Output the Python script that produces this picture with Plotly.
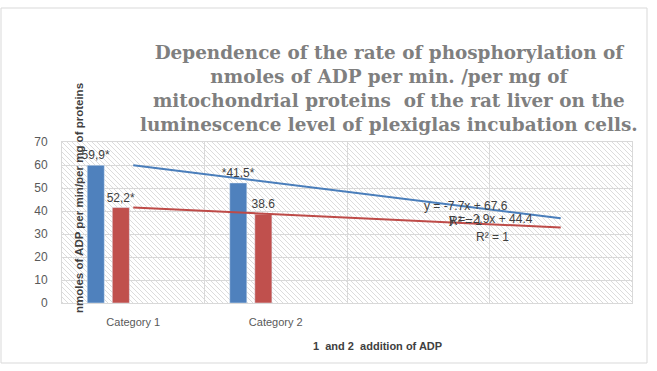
import base64
import numpy as np
import plotly.graph_objects as go

# ---- data ----
categories = ["Category 1", "Category 2", "", ""]
cat_index = [1, 2, 3, 4]
series1_values = [59.9, 52.2]
series2_values = [41.5, 38.6]
series1_labels = ["59,9*", "*41,5*"]
series2_labels = ["52,2*", "38.6"]
y_ticks = [0, 10, 20, 30, 40, 50, 60, 70]

title_text = ("Dependence of the rate of phosphorylation of<br>"
              "nmoles of ADP per min. /per mg of<br>"
              "mitochondrial proteins  of the rat liver on the<br>"
              "luminescence level of plexiglas incubation cells.")
y_title = "nmoles of ADP per min/per mg of proteins"
x_title = "1  and 2  addition of ADP"

BLUE = "#4f81bd"
RED = "#c0504d"
GRID = "#d9d9d9"
TXT = "#404040"

# plot area geometry (px)
W, H = 657, 371
L, R, T, B = 62, 25, 142, 68
PW, PH = W - L - R, H - T - B


def px(xp):
    return (xp - L) / PW


def py(yp):
    return (H - B - yp) / PH


# trendlines (linear fits)
xfit = np.array(cat_index[:2], dtype=float)
s1 = np.polyfit(xfit, series1_values, 1)
s2 = np.polyfit(xfit, series2_values, 1)
xt = np.array(cat_index, dtype=float)
t1 = np.polyval(s1, xt)
t2 = np.polyval(s2, xt)


def eq(c):
    return f"y = {c[0]:.1f}x + {c[1]:.1f}"


fig = go.Figure()
fig.add_trace(go.Bar(x=cat_index[:2], y=series1_values, width=0.12, offset=-0.323,
                     marker_color=BLUE, text=series1_labels, textposition="outside",
                     constraintext="none",
                     textfont=dict(size=12, color=TXT, family="Liberation Sans"),
                     cliponaxis=False, showlegend=False))
fig.add_trace(go.Bar(x=cat_index[:2], y=series2_values, width=0.12, offset=-0.147,
                     marker_color=RED, text=series2_labels, textposition="outside",
                     constraintext="none",
                     textfont=dict(size=12, color=TXT, family="Liberation Sans"),
                     cliponaxis=False, showlegend=False))
fig.add_trace(go.Scatter(x=xt, y=t1, mode="lines", line=dict(color="#4a7ebb", width=2),
                         showlegend=False))
fig.add_trace(go.Scatter(x=xt, y=t2, mode="lines", line=dict(color="#be4b48", width=2),
                         showlegend=False))

# hatch background
svg = (f'<svg xmlns="http://www.w3.org/2000/svg" width="{PW}" height="{PH}">'
       '<defs><pattern id="h" patternUnits="userSpaceOnUse" width="5" height="5">'
       '<path d="M-1,-1 L6,6 M-1,4 L1,6 M4,-1 L6,1" stroke="#dcdcdc" stroke-width="1"/>'
       '</pattern></defs>'
       f'<rect width="{PW}" height="{PH}" fill="white"/>'
       f'<rect width="{PW}" height="{PH}" fill="url(#h)"/></svg>')
uri = "data:image/svg+xml;base64," + base64.b64encode(svg.encode()).decode()
fig.add_layout_image(dict(source=uri, xref="paper", yref="paper", x=0, y=1,
                          sizex=1, sizey=1, sizing="stretch", layer="below",
                          xanchor="left", yanchor="top"))

fig.update_layout(
    width=W, height=H, margin=dict(l=L, r=R, t=T, b=B, autoexpand=False),
    paper_bgcolor="white", plot_bgcolor="white",
    barmode="overlay",
    font=dict(family="Liberation Sans", color="#595959", size=11),
    xaxis=dict(range=[0.5, 4.5], tickvals=cat_index, ticktext=categories,
               showgrid=False, zeroline=False, showline=True, mirror=True,
               linecolor=GRID, ticks="", tickfont=dict(size=11, color="#595959"),
               ticklabelstandoff=9, automargin=False,
               minor=dict(tickvals=[0.5, 1.5, 2.5, 3.5, 4.5], showgrid=True,
                          gridcolor=GRID, gridwidth=1, ticks="")),
    yaxis=dict(range=[0, 70], tickvals=y_ticks, showgrid=True, gridcolor=GRID,
               gridwidth=1, zeroline=False, showline=True, mirror=True,
               linecolor=GRID, ticks="", ticklabelstandoff=11, automargin=False,
               tickfont=dict(size=12, color="#595959")),
)

ann = [
    dict(text=f"<b>{title_text}</b>", x=px(389), y=py(89), xref="paper", yref="paper",
         showarrow=False, font=dict(family="DejaVu Serif", size=18.4, color="#7f7f7f"),
         xanchor="center", yanchor="middle", align="center"),
    dict(text=f"<b>{y_title}</b>", x=px(79), y=py(198), xref="paper", yref="paper",
         showarrow=False, textangle=-90, font=dict(size=11.5, color=TXT),
         xanchor="center", yanchor="middle"),
    dict(text=f"<b>{x_title}</b>", x=px(378), y=py(346), xref="paper", yref="paper",
         showarrow=False, font=dict(size=11, color=TXT), xanchor="center", yanchor="middle"),
    dict(text=eq(s1), x=px(466), y=py(206), xref="paper", yref="paper", showarrow=False,
         font=dict(size=12, color=TXT), xanchor="center", yanchor="middle"),
    dict(text="R² = 1", x=px(465), y=py(221), xref="paper", yref="paper", showarrow=False,
         font=dict(size=12, color=TXT), xanchor="center", yanchor="middle"),
    dict(text=eq(s2), x=px(491), y=py(219), xref="paper", yref="paper", showarrow=False,
         font=dict(size=12, color=TXT), xanchor="center", yanchor="middle"),
    dict(text="R² = 1", x=px(492), y=py(237), xref="paper", yref="paper", showarrow=False,
         font=dict(size=12, color=TXT), xanchor="center", yanchor="middle"),
]
fig.update_layout(annotations=ann)

fig.add_shape(type="rect", xref="paper", yref="paper", x0=px(1), x1=px(647),
              y0=py(363), y1=py(8), line=dict(color=GRID, width=1), layer="below")

fig.write_html("out.html", config={"displayModeBar": False},
               post_script="document.body.style.margin='0';")
